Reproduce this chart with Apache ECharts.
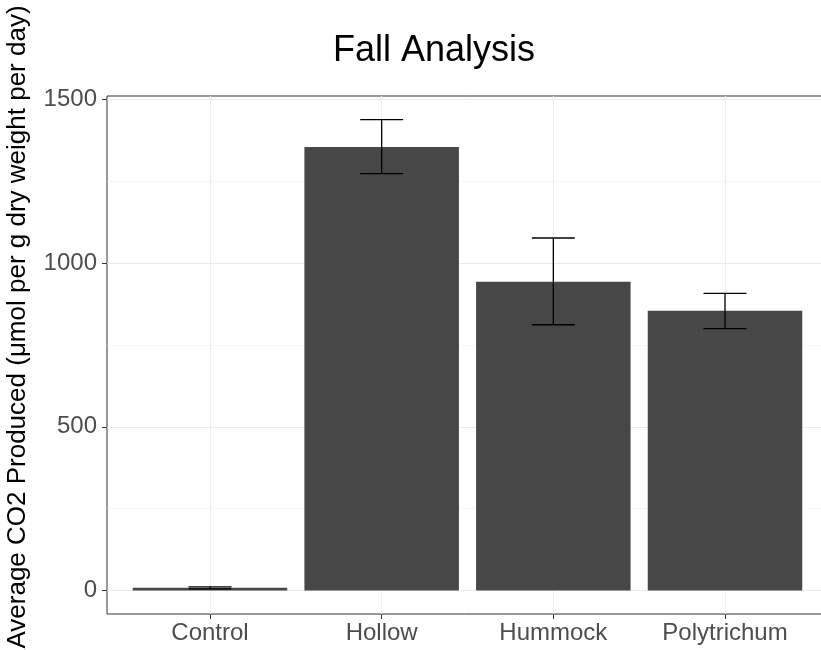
<!DOCTYPE html>
<html>
<head>
<meta charset="utf-8">
<script src="https://cdn.jsdelivr.net/npm/echarts@6/dist/echarts.min.js"></script>
<style>html,body{margin:0;padding:0;background:#fff}#c{width:821px;height:650px}</style>
</head>
<body>
<div id="c"></div>
<script>
const categories = ['Control', 'Hollow', 'Hummock', 'Polytrichum'];
const means = [8, 1355, 943, 855];
const errLow = [5, 1274, 812, 800];
const errHigh = [11, 1439, 1077, 908];
const yTicks = [0, 500, 1000, 1500];
const yMinor = [250, 750, 1250];
const titleText = 'Fall Analysis';
const yTitle = 'Average CO2 Produced (\u03bcmol per g dry weight per day)';

const FONT = '"Liberation Sans", Arial, Helvetica, sans-serif';
const idx = categories.map((c, i) => i);

const chart = echarts.init(document.getElementById('c'), null, {renderer: 'canvas'});
chart.setOption({
  backgroundColor: '#ffffff',
  animation: false,
  grid: {left: 107, top: 96, width: 721, bottom: 36, containLabel: false, outerBoundsMode: 'none', show: true, borderColor: '#333333', borderWidth: 1, backgroundColor: 'transparent'},
  graphic: [
    {type: 'text', x: 434, y: 51, style: {text: titleText, font: '36px ' + FONT, fill: '#000', textAlign: 'center', textVerticalAlign: 'middle'}},
    {type: 'text', x: 18, y: 327, rotation: Math.PI / 2, style: {text: yTitle, font: '26px ' + FONT, fill: '#000', textAlign: 'center', textVerticalAlign: 'middle'}}
  ],
  xAxis: {
    type: 'value', min: -0.6, max: 3.6, splitNumber: 5, position: 'bottom',
    axisLine: {show: false, onZero: false},
    axisTick: {show: true, length: 5, customValues: idx, lineStyle: {color: '#333333', width: 1}},
    axisLabel: {customValues: idx, margin: 7, color: '#4d4d4d', fontSize: 24, fontFamily: FONT, formatter: v => categories[Math.round(v)] || ''},
    splitLine: {show: true, lineStyle: {color: '#ebebeb', width: 1.1}}
  },
  yAxis: {
    type: 'value', min: -72, max: 1511, splitNumber: 3, position: 'left',
    axisLine: {show: false, onZero: false},
    axisTick: {show: true, length: 5, customValues: yTicks, lineStyle: {color: '#333333', width: 1}},
    axisLabel: {customValues: yTicks, margin: 10, color: '#4d4d4d', fontSize: 24, fontFamily: FONT, formatter: v => String(v)},
    splitLine: {show: true, lineStyle: {color: '#ebebeb', width: 1.1}}
  },
  series: [
    {
      type: 'bar', barWidth: '90%', z: 2,
      itemStyle: {color: '#474747'},
      data: means.map((m, i) => [i, m]),
      markLine: {
        silent: true, symbol: 'none', z: 1, label: {show: false},
        lineStyle: {color: '#f2f2f2', width: 0.6, type: 'solid'},
        data: yMinor.map(v => ({yAxis: v}))
      }
    },
    {
      type: 'custom', z: 3,
      data: errLow.map((lo, i) => [i, lo, errHigh[i]]),
      encode: {x: 0, y: [1, 2]},
      renderItem: function (params, api) {
        const x = api.value(0), lo = api.value(1), hi = api.value(2);
        const pHi = api.coord([x, hi]);
        const pLo = api.coord([x, lo]);
        const half = api.size([0.25, 0])[0] / 2;
        const st = {stroke: '#000', lineWidth: 1.3};
        return {type: 'group', children: [
          {type: 'line', shape: {x1: pHi[0], y1: pHi[1], x2: pLo[0], y2: pLo[1]}, style: st},
          {type: 'line', shape: {x1: pHi[0] - half, y1: pHi[1], x2: pHi[0] + half, y2: pHi[1]}, style: st},
          {type: 'line', shape: {x1: pLo[0] - half, y1: pLo[1], x2: pLo[0] + half, y2: pLo[1]}, style: st}
        ]};
      }
    }
  ]
});
</script>
</body>
</html>
